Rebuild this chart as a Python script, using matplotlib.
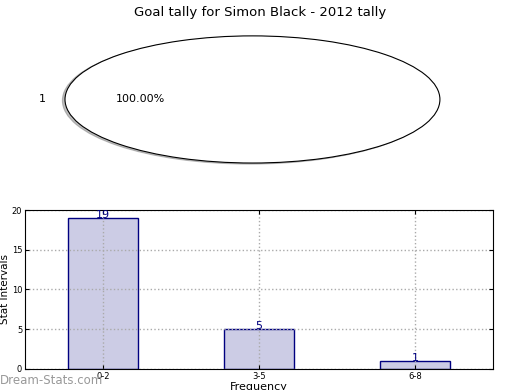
import matplotlib
matplotlib.use('Agg')
import matplotlib.pyplot as plt
import numpy as np

# 数据
title = 'Goal tally for Simon Black - 2012 tally'
pie_labels = ['1']
pie_values = [1]
bins = ['0-2', '3-5', '6-8']
counts = [19, 5, 1]

fig = plt.figure(figsize=(5.2, 3.9), dpi=100)

# 饼图
ax1 = fig.add_axes([0.125, 0.582, 0.721, 0.326])
ax1.pie(pie_values, labels=pie_labels, autopct='%1.2f%%', colors=['white'],
        shadow={'ox': -0.01, 'oy': -0.012, 'shade': 0.5},
        wedgeprops={'edgecolor': 'black', 'linewidth': 0.8},
        textprops={'fontsize': 8})
ax1.set_aspect('auto')
ax1.set_xlim(-1.0, 1.0)
ax1.set_ylim(-1.0, 1.0)
for p in ax1.patches:
    p.set_clip_on(False)
ax1.axis('off')
fig.text(0.5, 0.985, title, ha='center', va='top', fontsize=9.5)

# 柱状图
ax2 = fig.add_axes([0.048, 0.054, 0.9, 0.4075])
x = np.arange(len(bins))
ax2.bar(x, counts, 0.45, color=(0, 0, 0.5, 0.2), edgecolor='navy', linewidth=1)
for xi, c in zip(x, counts):
    ax2.text(xi, c - 0.25, str(c), ha='center', va='bottom', color='navy', fontsize=8)
ax2.set_xlim(-0.5, 2.5)
ax2.set_ylim(0, 20)
ax2.set_yticks([0, 5, 10, 15, 20])
ax2.set_xticks(x)
ax2.set_xticklabels(bins)
ax2.tick_params(labelsize=6, direction='in', length=3, top=True, right=True, pad=2)
ax2.grid(True, linestyle=':', color='#aaaaaa', linewidth=1)
ax2.set_axisbelow('line')
ax2.set_ylabel('Stat Intervals', fontsize=7.5)
ax2.yaxis.set_label_coords(-0.032, 0.5)
ax2.set_xlabel('Frequency', fontsize=8, labelpad=1)

fig.text(0.0, 0.025, 'Dream-Stats.com', ha='left', va='center', color='#999999',
         fontsize=8.5)

plt.savefig('out.png', dpi=100)
plt.close()
